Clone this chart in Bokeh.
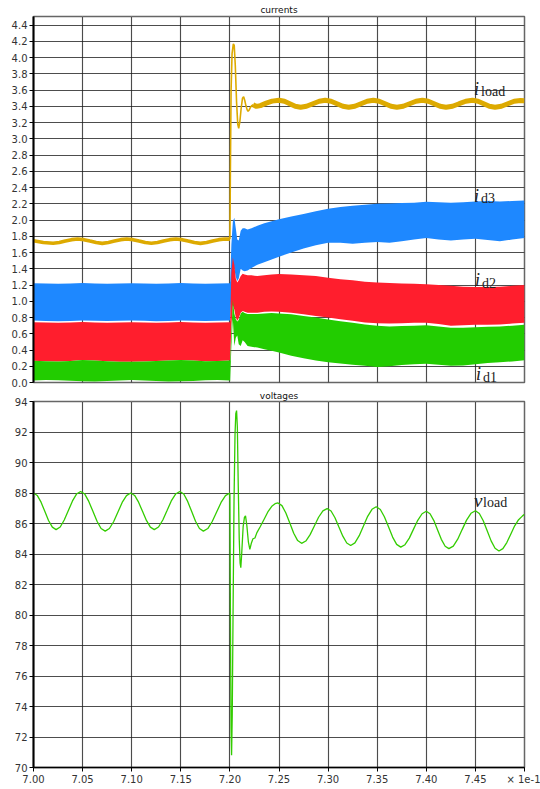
from bokeh.plotting import figure
from bokeh.layouts import column
from bokeh.models import FixedTicker, Grid, Range1d, Label, NumeralTickFormatter, Title
from bokeh.embed import file_html
from bokeh.resources import INLINE

# ---------------- data ----------------
x_ticks = [7.00, 7.05, 7.10, 7.15, 7.20, 7.25, 7.30, 7.35, 7.40, 7.45, 7.50]
cur_ticks = [0.0, 0.2, 0.4, 0.6, 0.8, 1.0, 1.2, 1.4, 1.6, 1.8, 2.0, 2.2,
             2.4, 2.6, 2.8, 3.0, 3.2, 3.4, 3.6, 3.8, 4.0, 4.2, 4.4]
volt_ticks = [70, 72, 74, 76, 78, 80, 82, 84, 86, 88, 90, 92, 94]

# envelope time base for the ripple bands
band_t = [7.0000, 7.0125, 7.0250, 7.0375, 7.0500, 7.0625, 7.0750, 7.0875, 7.1000,
          7.1125, 7.1250, 7.1375, 7.1500, 7.1625, 7.1750, 7.1875, 7.2000,
          7.2003, 7.2015, 7.2030, 7.2045, 7.2060, 7.2075, 7.2090, 7.2110, 7.2130,
          7.2150, 7.2180, 7.2220, 7.2280, 7.2350, 7.2425, 7.2500, 7.2625, 7.2750,
          7.2875, 7.3000, 7.3125, 7.3250, 7.3375, 7.3500, 7.3625, 7.3750, 7.3875,
          7.4000, 7.4125, 7.4250, 7.4375, 7.4500, 7.4625, 7.4750, 7.4875, 7.5000]

id3_hi = [1.222, 1.218, 1.215, 1.219, 1.224, 1.220, 1.216, 1.219, 1.223, 1.219, 1.215,
          1.219, 1.224, 1.220, 1.216, 1.219, 1.222,
          1.25, 1.70, 1.98, 2.03, 1.90, 1.76, 1.75, 1.87, 1.90, 1.90, 1.885, 1.90, 1.93,
          1.96, 1.985, 2.01, 2.045, 2.075, 2.11, 2.14, 2.16, 2.175, 2.19, 2.20, 2.205,
          2.21, 2.215, 2.225, 2.22, 2.215, 2.22, 2.23, 2.235, 2.23, 2.235, 2.24]
id3_lo = [0.762, 0.758, 0.755, 0.758, 0.764, 0.760, 0.756, 0.759, 0.763, 0.759, 0.755,
          0.758, 0.764, 0.760, 0.756, 0.759, 0.762,
          0.78, 1.10, 1.35, 1.40, 1.30, 1.25, 1.28, 1.40, 1.38, 1.37, 1.38, 1.41, 1.45,
          1.48, 1.515, 1.55, 1.60, 1.65, 1.69, 1.72, 1.72, 1.71, 1.72, 1.73, 1.72,
          1.74, 1.76, 1.78, 1.76, 1.75, 1.76, 1.77, 1.755, 1.74, 1.76, 1.78]

id2_hi = [0.742, 0.738, 0.735, 0.738, 0.744, 0.740, 0.736, 0.739, 0.743, 0.739, 0.735,
          0.738, 0.744, 0.740, 0.736, 0.739, 0.742,
          0.76, 1.35, 1.54, 1.45, 1.28, 1.23, 1.26, 1.31, 1.34, 1.33, 1.32, 1.32, 1.31,
          1.32, 1.33, 1.335, 1.33, 1.32, 1.31, 1.29, 1.27, 1.26, 1.24, 1.23, 1.225,
          1.22, 1.215, 1.21, 1.20, 1.19, 1.18, 1.176, 1.175, 1.18, 1.19, 1.20]
id2_lo = [0.268, 0.262, 0.258, 0.266, 0.278, 0.272, 0.262, 0.256, 0.255, 0.258, 0.265,
          0.272, 0.276, 0.270, 0.262, 0.266, 0.272,
          0.28, 0.70, 0.95, 0.90, 0.80, 0.76, 0.79, 0.86, 0.88, 0.87, 0.86, 0.86, 0.86,
          0.87, 0.875, 0.87, 0.86, 0.84, 0.82, 0.80, 0.78, 0.76, 0.74, 0.73, 0.725,
          0.73, 0.735, 0.735, 0.72, 0.70, 0.705, 0.71, 0.71, 0.715, 0.725, 0.735]

id1_hi = [0.268, 0.262, 0.258, 0.266, 0.278, 0.272, 0.262, 0.256, 0.255, 0.258, 0.265,
          0.272, 0.276, 0.270, 0.262, 0.266, 0.272,
          0.27, 0.60, 1.02, 0.85, 0.78, 0.75, 0.77, 0.85, 0.87, 0.855, 0.845, 0.845, 0.845,
          0.85, 0.855, 0.85, 0.84, 0.82, 0.80, 0.775, 0.755, 0.735, 0.715, 0.70, 0.69,
          0.695, 0.70, 0.705, 0.69, 0.675, 0.675, 0.68, 0.685, 0.69, 0.70, 0.71]
id1_lo = [0.025, 0.030, 0.028, 0.022, 0.015, 0.012, 0.018, 0.026, 0.030, 0.026, 0.018,
          0.012, 0.014, 0.020, 0.027, 0.030, 0.026,
          0.02, 0.45, 0.78, 0.45, 0.55, 0.58, 0.47, 0.45, 0.52, 0.50, 0.45, 0.44, 0.43,
          0.41, 0.39, 0.37, 0.33, 0.30, 0.27, 0.25, 0.235, 0.22, 0.205, 0.19, 0.20,
          0.215, 0.225, 0.23, 0.22, 0.205, 0.21, 0.225, 0.24, 0.25, 0.26, 0.275]

# load current (centre of its ripple band)
iload_pre_t = [7.000, 7.010, 7.020, 7.0263, 7.0325, 7.0388, 7.045, 7.0513, 7.0575, 7.0638,
               7.070, 7.0763, 7.0825, 7.0888, 7.095, 7.1013, 7.1075, 7.1138, 7.120, 7.1263,
               7.1325, 7.1388, 7.145, 7.1513, 7.1575, 7.1638, 7.170, 7.1763, 7.1825, 7.1888,
               7.195, 7.200]
iload_pre_v = [1.745, 1.724, 1.715, 1.723, 1.741, 1.759, 1.767, 1.759, 1.741, 1.723,
               1.713, 1.723, 1.741, 1.759, 1.768, 1.759, 1.741, 1.723, 1.715, 1.723,
               1.741, 1.759, 1.767, 1.759, 1.741, 1.723, 1.713, 1.723, 1.741, 1.759,
               1.768, 1.765]
iload_tr_t = [7.2000, 7.2005, 7.2012, 7.2022, 7.2035, 7.2044, 7.2055, 7.2068, 7.2080,
              7.2090, 7.2102, 7.2115, 7.2128, 7.2140, 7.2152, 7.2163, 7.2175, 7.2185,
              7.2198, 7.2210, 7.2223, 7.2236]
iload_tr_v = [1.765, 2.60, 3.60, 4.05, 4.17, 4.15, 3.90, 3.45, 3.18, 3.13, 3.22, 3.38,
              3.50, 3.52, 3.47, 3.41, 3.36, 3.34, 3.36, 3.39, 3.41, 3.42]
iload_post_t = [7.2236, 7.2270, 7.2310, 7.2370, 7.2430, 7.2500, 7.2555, 7.2610, 7.2665,
                7.2720, 7.2780, 7.2845, 7.2910, 7.2970, 7.3030, 7.3090, 7.3150, 7.3210,
                7.3272, 7.3335, 7.3398, 7.3460, 7.3520, 7.3580, 7.3640, 7.3700, 7.3765,
                7.3830, 7.3895, 7.3960, 7.4020, 7.4080, 7.4140, 7.4200, 7.4267, 7.4335,
                7.4402, 7.4470, 7.4527, 7.4585, 7.4642, 7.4700, 7.4765, 7.4830, 7.4895,
                7.4960, 7.5000]
iload_post_v = [3.42, 3.40, 3.41, 3.44, 3.465, 3.475, 3.463, 3.433, 3.402, 3.39, 3.402,
                3.433, 3.463, 3.475, 3.463, 3.433, 3.402, 3.39, 3.402, 3.433, 3.463,
                3.475, 3.463, 3.433, 3.402, 3.39, 3.402, 3.433, 3.463, 3.475, 3.463,
                3.433, 3.402, 3.39, 3.402, 3.433, 3.463, 3.475, 3.463, 3.433, 3.402,
                3.39, 3.402, 3.433, 3.463, 3.473, 3.47]

# load voltage
vload_t = [7.0000, 7.0038, 7.0077, 7.0115, 7.0153, 7.0192, 7.0230,
           7.0272, 7.0313, 7.0355, 7.0397, 7.0438, 7.0480,
           7.0522, 7.0563, 7.0605, 7.0647, 7.0688, 7.0730,
           7.0773, 7.0817, 7.0860, 7.0903, 7.0947, 7.0990,
           7.1030, 7.1070, 7.1110, 7.1150, 7.1190, 7.1230,
           7.1273, 7.1317, 7.1360, 7.1403, 7.1447, 7.1490,
           7.1530, 7.1570, 7.1610, 7.1650, 7.1690, 7.1730,
           7.1775, 7.1820, 7.1865, 7.1910, 7.1955, 7.2000,
           7.2006, 7.2012, 7.2017, 7.2024, 7.2032, 7.2042, 7.2052, 7.2060, 7.2068,
           7.2076, 7.2085, 7.2095, 7.2104, 7.2111, 7.2120, 7.2135, 7.2148, 7.2159,
           7.2172, 7.2188, 7.2203, 7.2218, 7.2235, 7.2255, 7.2275, 7.2310, 7.2350,
           7.2390, 7.2430, 7.2460, 7.2490,
           7.2530, 7.2570, 7.2610, 7.2650, 7.2690, 7.2730,
           7.2773, 7.2817, 7.2860, 7.2903, 7.2947, 7.2990,
           7.3030, 7.3070, 7.3110, 7.3150, 7.3190, 7.3230,
           7.3273, 7.3317, 7.3360, 7.3403, 7.3447, 7.3490,
           7.3532, 7.3573, 7.3615, 7.3657, 7.3698, 7.3740,
           7.3783, 7.3827, 7.3870, 7.3913, 7.3957, 7.4000,
           7.4038, 7.4077, 7.4115, 7.4153, 7.4192, 7.4230,
           7.4275, 7.4320, 7.4365, 7.4410, 7.4455, 7.4500,
           7.4540, 7.4580, 7.4620, 7.4660, 7.4700, 7.4740,
           7.4780, 7.4820, 7.4860, 7.4900, 7.4940, 7.4980, 7.5000]
vload_v = [88.00, 87.84, 87.40, 86.80, 86.20, 85.76, 85.60,
           85.77, 86.23, 86.85, 87.48, 87.93, 88.10,
           87.93, 87.45, 86.80, 86.15, 85.67, 85.50,
           85.67, 86.13, 86.75, 87.38, 87.83, 88.00,
           87.84, 87.40, 86.80, 86.20, 85.76, 85.60,
           85.77, 86.23, 86.85, 87.48, 87.93, 88.10,
           87.93, 87.45, 86.80, 86.15, 85.67, 85.50,
           85.67, 86.13, 86.75, 87.38, 87.83, 88.00,
           79.0, 72.5, 70.8, 73.5, 80.0, 87.5, 91.8, 93.2, 93.4,
           92.3, 88.5, 85.0, 83.4, 83.1, 84.0, 85.8, 86.4, 86.5,
           85.9, 84.8, 84.3, 84.7, 85.0, 85.05, 85.4, 85.8, 86.3,
           86.8, 87.15, 87.3, 87.35,
           87.17, 86.69, 86.03, 85.36, 84.88, 84.70,
           84.85, 85.27, 85.84, 86.41, 86.83, 86.98,
           86.82, 86.38, 85.77, 85.17, 84.72, 84.56,
           84.73, 85.20, 85.83, 86.47, 86.93, 87.10,
           86.92, 86.44, 85.78, 85.11, 84.63, 84.45,
           84.61, 85.04, 85.63, 86.21, 86.64, 86.80,
           86.64, 86.19, 85.58, 84.96, 84.51, 84.35,
           84.52, 84.97, 85.60, 86.22, 86.67, 86.84,
           86.66, 86.18, 85.52, 84.86, 84.38, 84.20,
           84.35, 84.75, 85.30, 85.85, 86.25, 86.50, 86.60]

# ---------------- styling helpers ----------------
TICK_FONT = "DejaVu Sans"
W = 540
LEFT = 33
RIGHT = 16


def style(p, yticks, yfmt, show_x):
    p.background_fill_color = "white"
    p.border_fill_color = "white"
    p.outline_line_color = "#666666"
    p.outline_line_width = 1.5
    # solid grey grid under a black dotted grid
    p.xgrid.ticker = FixedTicker(ticks=x_ticks)
    p.ygrid.ticker = FixedTicker(ticks=yticks)
    for g in (p.xgrid, p.ygrid):
        g.grid_line_color = "#999999"
        g.grid_line_width = 1
    p.add_layout(Grid(dimension=0, ticker=FixedTicker(ticks=x_ticks),
                      grid_line_color="black", grid_line_dash="1 1", grid_line_width=1.2))
    p.add_layout(Grid(dimension=1, ticker=FixedTicker(ticks=yticks),
                      grid_line_color="black", grid_line_dash="1 1", grid_line_width=1.2))
    ya = p.yaxis[0]
    ya.ticker = FixedTicker(ticks=yticks, minor_ticks=[])
    ya.formatter = NumeralTickFormatter(format=yfmt)
    ya.axis_line_color = "black"
    ya.axis_line_width = 2
    ya.major_tick_out = 4
    ya.major_tick_in = 0
    ya.major_tick_line_color = "black"
    ya.minor_tick_line_color = None
    ya.major_label_text_font = TICK_FONT
    ya.major_label_text_font_size = "10px"
    ya.major_label_text_color = "#333333"
    ya.major_label_standoff = 2
    xa = p.xaxis[0]
    if show_x:
        xa.ticker = FixedTicker(ticks=x_ticks, minor_ticks=[])
        xa.formatter = NumeralTickFormatter(format="0.00")
        xa.major_label_overrides = {7.5: "\u00d7 1e-1"}
        xa.axis_line_color = "black"
        xa.axis_line_width = 1.5
        xa.major_tick_out = 4
        xa.major_tick_in = 0
        xa.major_tick_line_color = "black"
        xa.minor_tick_line_color = None
        xa.major_label_text_font = TICK_FONT
        xa.major_label_text_font_size = "10px"
        xa.major_label_text_color = "#333333"
        xa.major_label_standoff = 2
    else:
        xa.visible = False


def make_title(txt, standoff):
    return Title(text=txt, align="center", text_font="DejaVu Sans",
                 text_font_size="9px", text_font_style="normal",
                 text_color="#111111", standoff=standoff, offset=0)


def sub_label(p, x, y, main, sub, main_size, sub_size, sub_dx, sub_dy):
    p.add_layout(Label(x=x, y=y, text=main, text_font="Liberation Serif",
                       text_font_style="italic", text_font_size=main_size,
                       text_color="#222222", text_baseline="alphabetic"))
    p.add_layout(Label(x=x, y=y, x_offset=sub_dx, y_offset=sub_dy, text=sub,
                       text_font="Liberation Serif", text_font_style="normal",
                       text_font_size=sub_size, text_color="#222222",
                       text_baseline="alphabetic"))


# ---------------- currents ----------------
p1 = figure(width=W, height=388, x_range=Range1d(7.0, 7.5), y_range=Range1d(0.0, 4.507),
            output_backend="svg", toolbar_location=None,
            min_border_left=LEFT, min_border_right=RIGHT, min_border_top=0,
            min_border_bottom=6)
p1.title = make_title("currents", 4)
style(p1, cur_ticks, "0.0", False)

p1.line(iload_pre_t, iload_pre_v, line_color="#DDAA00", line_width=3.6)
p1.line(iload_tr_t, iload_tr_v, line_color="#DDAA00", line_width=1.6)
p1.line(iload_post_t, iload_post_v, line_color="#DDAA00", line_width=5)
p1.varea(x=band_t, y1=id3_lo, y2=id3_hi, fill_color="#1E88FF")
p1.varea(x=band_t, y1=id2_lo, y2=id2_hi, fill_color="#FF1E2D")
p1.varea(x=band_t, y1=id1_lo, y2=id1_hi, fill_color="#22CC00")

sub_label(p1, 7.4487, 3.61, "i", "load", "18px", "14px", 7, -2)
sub_label(p1, 7.4487, 2.30, "i", "d3", "18px", "14px", 7, -3)
sub_label(p1, 7.4497, 1.26, "i", "d2", "18px", "14px", 7, -3)
sub_label(p1, 7.4507, 0.10, "i", "d1", "18px", "14px", 7, -3)

# ---------------- voltages ----------------
p2 = figure(width=W, height=399, x_range=p1.x_range, y_range=Range1d(70, 94),
            output_backend="svg", toolbar_location=None,
            min_border_left=LEFT, min_border_right=RIGHT, min_border_top=0,
            min_border_bottom=20)
p2.title = make_title("voltages", 1)
style(p2, volt_ticks, "0", True)

p2.line(vload_t, vload_v, line_color="#33CC00", line_width=1.3)
sub_label(p2, 7.4487, 87.5, "v", "load", "19px", "14px", 9, -2)

layout = column(p1, p2, spacing=0)
open("out.html", "w").write(file_html(layout, INLINE))
